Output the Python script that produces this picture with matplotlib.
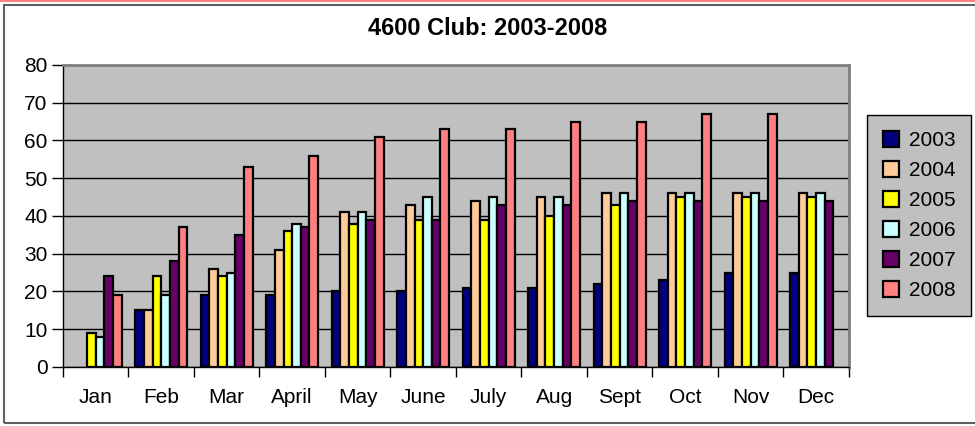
import numpy as np
import matplotlib.pyplot as plt
from matplotlib.patches import Rectangle
from matplotlib.lines import Line2D

plt.rcParams['font.family'] = ['Liberation Sans', 'DejaVu Sans']

months = ["Jan", "Feb", "Mar", "April", "May", "June", "July", "Aug",
          "Sept", "Oct", "Nov", "Dec"]
years = ["2003", "2004", "2005", "2006", "2007", "2008"]

# members per month, one list per year (0 = no bar)
y2003 = [0, 15, 19, 19, 20, 20, 21, 21, 22, 23, 25, 25]
y2004 = [0, 15, 26, 31, 41, 43, 44, 45, 46, 46, 46, 46]
y2005 = [9, 24, 24, 36, 38, 39, 39, 40, 43, 45, 45, 45]
y2006 = [8, 19, 25, 38, 41, 45, 45, 45, 46, 46, 46, 46]
y2007 = [24, 28, 35, 37, 39, 39, 43, 43, 44, 44, 44, 44]
y2008 = [19, 37, 53, 56, 61, 63, 63, 65, 65, 67, 67, 0]

series = [y2003, y2004, y2005, y2006, y2007, y2008]
colors = ["#000080", "#FFCC99", "#FFFF00", "#CCFFFF", "#660066", "#FF8080"]

fig = plt.figure(figsize=(9.75, 4.26), dpi=100)
ax = fig.add_axes([0.0646, 0.1385, 0.806, 0.709])
ax.set_facecolor("#C0C0C0")

x = np.arange(len(months))
w = 0.132
for i, (vals, c, yr) in enumerate(zip(series, colors, years)):
    vals = np.array(vals, dtype=float)
    vals[vals == 0] = np.nan
    ax.bar(x + 0.5 + (i - 2.5) * w, vals, width=w, color=c,
           edgecolor="black", linewidth=1.6, label=yr, zorder=3)

ax.set_xlim(0, 12)
ax.set_ylim(0, 80)
ax.set_yticks(range(0, 81, 10))
ax.yaxis.grid(True, color="black", linewidth=1, zorder=1)
ax.set_xticks(range(13))
ax.set_xticklabels([])
ax.set_xticks(x + 0.5, minor=True)
ax.set_xticklabels(months, minor=True)
ax.tick_params(axis="x", which="minor", length=0, pad=15, labelsize=15)
ax.tick_params(axis="x", which="major", length=7, width=1, direction="out")
ax.tick_params(axis="y", length=8, width=1, labelsize=15, pad=3)

for side in ["top", "right"]:
    ax.spines[side].set_color("#808080")
    ax.spines[side].set_linewidth(2)
ax.spines["left"].set_linewidth(1)
ax.spines["bottom"].set_linewidth(1)

fig.text(0.5, 0.932, "4600 Club: 2003-2008", ha="center", va="center",
         fontsize=17, fontweight="bold")

leg = fig.legend(loc="upper left", bbox_to_anchor=(867 / 975, 1 - 115 / 426),
                 fontsize=15, frameon=True, fancybox=False,
                 handlelength=0.8, handleheight=0.8, handletextpad=0.45,
                 labelspacing=0.52, borderpad=0.75, borderaxespad=0)
leg.get_frame().set_facecolor("#C0C0C0")
leg.get_frame().set_edgecolor("black")
leg.get_frame().set_linewidth(1)
leg.get_frame().set_alpha(1)

# outer chart border
fig.add_artist(Rectangle((4 / 975, 3 / 426), 1.1, 418 / 426, transform=fig.transFigure,
                         fill=False, edgecolor="#606060", linewidth=1.5))
fig.add_artist(Line2D([0, 1], [0.998, 0.998], transform=fig.transFigure,
                      color="#FF8080", linewidth=1.5))

fig.savefig("out.png", dpi=100)
